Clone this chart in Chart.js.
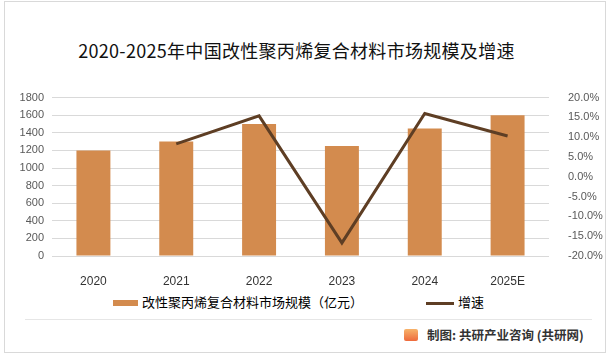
<!DOCTYPE html>
<html>
<head>
<meta charset="utf-8">
<script src="https://cdn.jsdelivr.net/npm/chart.js@4"></script>
<style>
    body { margin: 0; background: #fff; }
    #box { position: relative; width: 609px; height: 358px; overflow: hidden; font-family: "Noto Sans CJK SC", sans-serif; }
    #frame { position: absolute; left: 4px; top: 1px; width: 600px; height: 350px; border: 1px solid #d9d9d9; }
    #titulo { position: absolute; left: 0; width: 593px; top: 37px; text-align: center; font-size: 18px; color: #111; letter-spacing: 0.3px; }
    #grafico-box { position: absolute; left: 0; top: 80px; width: 609px; height: 205px; }
    .leg { position: absolute; top: 293px; font-size: 13px; color: #000; line-height: 18px; }
    .leg span { display: inline-block; vertical-align: middle; margin-right: 4px; }
    #sep { position: absolute; left: 25px; width: 567px; top: 319px; border-top: 1px solid #e6e6e6; }
    #fonte { position: absolute; left: 427px; top: 325px; font-size: 12.5px; color: #333; font-weight: bold; }
    #logo { position: absolute; left: 404px; top: 329px; width: 14px; height: 12px; background: linear-gradient(#f7b36a, #ee6a3c); border-radius: 2px; }
</style>
</head>
<body>
<div id="box">
    <div id="frame"></div>
    <div id="titulo">2020-2025年中国改性聚丙烯复合材料市场规模及增速</div>
    <div id="grafico-box"><canvas id="grafico"></canvas></div>
    <div class="leg" style="left:113px"><span style="width:25px;height:6px;background:#d38b4e"></span>改性聚丙烯复合材料市场规模（亿元）</div>
    <div class="leg" style="left:426px"><span style="width:28px;height:3px;background:#5e3e24"></span>增速</div>
    <div id="sep"></div>
    <div id="logo"></div>
    <div id="fonte">制图: 共研产业咨询 (共研网)</div>
</div>
<script>
var anos = ['2020', '2021', '2022', '2023', '2024', '2025E'];
var mercado = [1200, 1300, 1500, 1250, 1450, 1600];
var crescimento = [null, 8.3, 15.4, -16.7, 16.0, 10.3];

let Grafico = new Chart(
    document.getElementById('grafico'), {
    data: {
        labels: anos,
        datasets: [{
            type: 'line',
            label: '增速',
            data: crescimento,
            yAxisID: 'y2',
            borderColor: '#5e3e24',
            borderWidth: 3,
            pointRadius: 0,
            tension: 0
        }, {
            type: 'bar',
            label: '改性聚丙烯复合材料市场规模（亿元）',
            data: mercado,
            yAxisID: 'y',
            backgroundColor: '#d38b4e',
            barPercentage: 0.41,
            categoryPercentage: 1
        }]
    },
    options: {
        responsive: true,
        maintainAspectRatio: false,
        animation: false,
        layout: { padding: { top: 12, left: 0, right: 0, bottom: 0 } },
        scales: {
            x: {
                grid: { display: false },
                border: { display: false },
                ticks: { color: '#333', font: { size: 12, family: 'Liberation Sans' }, padding: 10 },
                afterFit: function (s) { s.height = 29; }
            },
            y: {
                position: 'left',
                min: 0, max: 1800,
                ticks: {
                    stepSize: 200, color: '#595959', font: { size: 11, family: 'Liberation Sans' }, padding: 8,
                    callback: function (v) { return String(v); }
                },
                grid: { color: '#d9d9d9', drawTicks: false },
                border: { display: false },
                afterFit: function (s) { s.width = 52; }
            },
            y2: {
                position: 'right',
                min: -20, max: 20,
                ticks: {
                    stepSize: 5, color: '#595959', font: { size: 11, family: 'Liberation Sans' }, padding: 11,
                    callback: function (v) { return v.toFixed(1) + '%'; }
                },
                grid: { display: false },
                border: { display: false },
                afterFit: function (s) { s.width = 60; }
            }
        },
        plugins: {
            legend: { display: false },
            tooltip: { enabled: false }
        }
    }
});
</script>
</body>
</html>
